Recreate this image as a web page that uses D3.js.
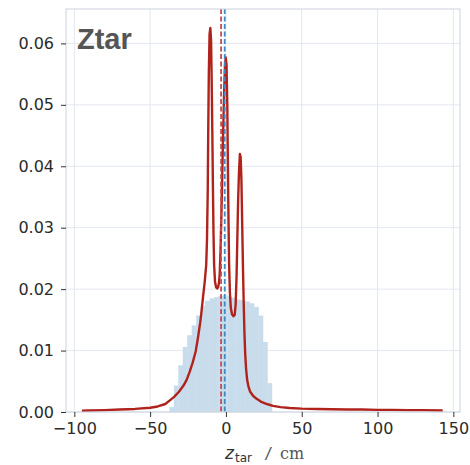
<!DOCTYPE html>
<html>
<head>
<meta charset="utf-8">
<script src="https://cdn.jsdelivr.net/npm/d3@7"></script>
<style>
  html, body { margin: 0; padding: 0; background: #fff; }
  svg { display: block; }
</style>
</head>
<body>
<svg id="chart" width="470" height="465"></svg>
<script>
// Reconstructed target-vertex distribution (red) on top of the generated z profile (blue histogram)
const zGrid = [-95, -90, -80, -70, -60, -50, -45, -40, -37, -34, -31, -28, -26, -24, -22, -20, -18.5, -17, -16, -15,
  -14, -13, -12.5, -12, -11.7, -11.3, -10.8, -10.3, -9.8, -9.4, -9, -8.6, -8.2, -7.8, -7.2, -6.5, -5.8, -5.2, -4.6, -4.1,
  -3.6, -3, -2.4, -1.8, -1.2, -0.6, -0.1, 0.4, 0.9, 1.3, 1.7, 2.1, 2.6, 3.2, 4, 5, 5.8, 6.4, 7, 7.5,
  8, 8.6, 9.2, 9.7, 10.2, 10.7, 11.2, 11.7, 12.2, 12.7, 13.3, 14, 15, 16, 18, 20, 23, 27, 31, 36,
  42, 50, 60, 70, 80, 90, 100, 110, 120, 130, 143];
const recoDensity = [0.0002, 0.00025, 0.0003, 0.0004, 0.0005, 0.0007, 0.0009, 0.0013, 0.0019, 0.0025, 0.0033, 0.0043, 0.0052, 0.0065, 0.008, 0.0098, 0.012, 0.0145, 0.0166, 0.019,
  0.0212, 0.024, 0.028, 0.036, 0.045, 0.055, 0.0615, 0.0625, 0.0605, 0.054, 0.046, 0.037, 0.029, 0.024, 0.0212, 0.0203, 0.0201, 0.0203, 0.021, 0.0225,
  0.026, 0.032, 0.039, 0.046, 0.052, 0.0565, 0.0577, 0.0565, 0.05, 0.04, 0.031, 0.024, 0.0195, 0.017, 0.0159, 0.0156, 0.0158, 0.0175, 0.022, 0.028,
  0.034, 0.039, 0.042, 0.0415, 0.038, 0.031, 0.024, 0.018, 0.013, 0.0095, 0.007, 0.0052, 0.004, 0.0033, 0.0026, 0.0022, 0.0017, 0.0013, 0.001, 0.0008,
  0.00065, 0.00055, 0.0005, 0.00045, 0.0004, 0.0004, 0.00035, 0.00035, 0.0003, 0.0003, 0.00025];

// Generated profile: 23 bins from -37.3 cm, 2.94 cm wide
const histStart = -37.3;
const histWidth = 2.94;
const histDensity = [0.0008, 0.0043, 0.0076, 0.0106, 0.0125, 0.0141, 0.0157, 0.0172, 0.0181, 0.0185, 0.0187, 0.0189,
  0.0190, 0.0188, 0.0186, 0.0183, 0.0182, 0.0180, 0.0177, 0.0171, 0.0157, 0.0114, 0.0047];

// Mean positions
const meanReco = -3.2;
const meanTrue = -0.8;

const xTicks = [-100, -50, 0, 50, 100, 150];
const yTicks = [0, 0.01, 0.02, 0.03, 0.04, 0.05, 0.06];
const titleText = "Ztar";

const svg = d3.select("#chart");
const plotLeft = 66, plotRight = 460, plotTop = 9, plotBottom = 412;

const x = d3.scaleLinear().domain([-105.5, 154.4]).range([plotLeft, plotRight]);
const y = d3.scaleLinear().domain([0, 0.0656]).range([plotBottom, plotTop]);

const font = "'DejaVu Sans', sans-serif";

// grid
const grid = svg.append("g");
grid.selectAll("line.v").data(xTicks).join("line")
  .attr("x1", d => x(d)).attr("x2", d => x(d))
  .attr("y1", plotTop).attr("y2", plotBottom)
  .attr("stroke", "#e3e7ee").attr("stroke-width", 1);
grid.selectAll("line.h").data(yTicks).join("line")
  .attr("x1", plotLeft).attr("x2", plotRight)
  .attr("y1", d => y(d)).attr("y2", d => y(d))
  .attr("stroke", "#e3e7ee").attr("stroke-width", 1);

// histogram
const bins = histDensity.map((v, i) => ({ x0: histStart + i * histWidth, x1: histStart + (i + 1) * histWidth, v }));
svg.append("g").selectAll("rect").data(bins).join("rect")
  .attr("x", d => x(d.x0))
  .attr("width", d => x(d.x1) - x(d.x0) + 0.3)
  .attr("y", d => y(d.v))
  .attr("height", d => y(0) - y(d.v))
  .attr("fill", "#c8dcec");

// reconstructed curve
const pts = zGrid.map((z, i) => [z, recoDensity[i]]);
svg.append("path")
  .datum(pts)
  .attr("d", d3.line().x(d => x(d[0])).y(d => y(d[1])))
  .attr("fill", "none")
  .attr("stroke", "#b0231c")
  .attr("stroke-width", 2.4)
  .attr("stroke-linejoin", "round");

// mean markers
svg.append("line")
  .attr("x1", x(meanReco)).attr("x2", x(meanReco))
  .attr("y1", plotTop).attr("y2", plotBottom)
  .attr("stroke", "#c94c4e").attr("stroke-width", 1.8)
  .attr("stroke-dasharray", "5,2.5");
svg.append("line")
  .attr("x1", x(meanTrue)).attr("x2", x(meanTrue))
  .attr("y1", plotTop).attr("y2", plotBottom)
  .attr("stroke", "#3d8ac6").attr("stroke-width", 1.8)
  .attr("stroke-dasharray", "5,2.5");

// frame
svg.append("rect")
  .attr("x", plotLeft).attr("y", plotTop)
  .attr("width", plotRight - plotLeft).attr("height", plotBottom - plotTop)
  .attr("fill", "none").attr("stroke", "#ccd3de").attr("stroke-width", 1);

// axes
const xAxis = svg.append("g")
  .attr("transform", `translate(0,${plotBottom})`)
  .call(d3.axisBottom(x).tickValues(xTicks).tickSize(5).tickPadding(6).tickFormat(d3.format("d")));
const yAxis = svg.append("g")
  .attr("transform", `translate(${plotLeft},0)`)
  .call(d3.axisLeft(y).tickValues(yTicks).tickSize(5).tickPadding(7).tickFormat(d3.format(".2f")));
[xAxis, yAxis].forEach(g => {
  g.select(".domain").remove();
  g.selectAll(".tick line").attr("stroke", "#333").attr("stroke-width", 1);
  g.selectAll(".tick text").attr("fill", "#2b2b2b").style("font-family", font).style("font-size", "16px");
});

// x label: italic z with subscript, then the unit
const xl = svg.append("g").attr("fill", "#333");
xl.append("text")
  .attr("x", 225).attr("y", 459)
  .style("font-family", font).style("font-style", "italic").style("font-size", "17px")
  .text("z");
xl.append("text")
  .attr("x", 235).attr("y", 462)
  .style("font-family", font).style("font-size", "12px")
  .text("tar");
xl.append("text")
  .attr("x", 264).attr("y", 459)
  .style("font-family", "'DejaVu Sans Mono', monospace").style("font-size", "15px")
  .attr("fill", "#555")
  .text("/");
xl.append("text")
  .attr("x", 280).attr("y", 459)
  .style("font-family", "'DejaVu Serif', serif").style("font-size", "16px")
  .attr("fill", "#555")
  .text("cm");

// title
svg.append("text")
  .attr("x", 77).attr("y", 49)
  .attr("fill", "#555")
  .style("font-family", "'Liberation Sans', Arial, sans-serif")
  .style("font-weight", "bold")
  .style("font-size", "29px")
  .text(titleText);
</script>
</body>
</html>
